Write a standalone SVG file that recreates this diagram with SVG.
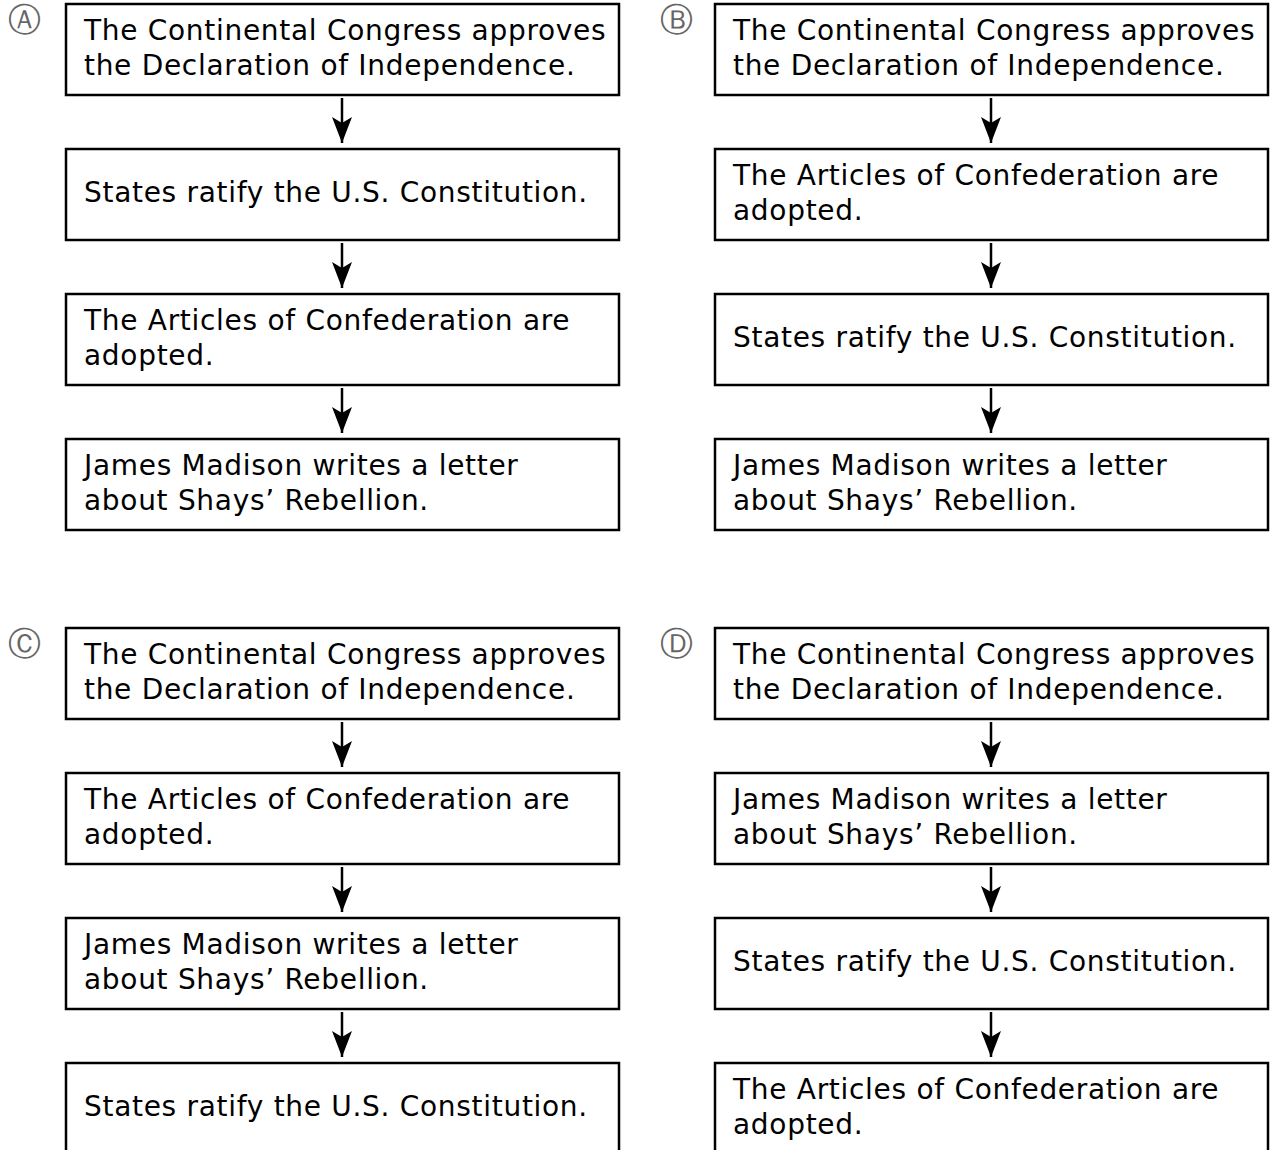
<svg xmlns="http://www.w3.org/2000/svg" width="1271" height="1150" viewBox="0 0 1271 1150">
<style>
.box{fill:#fff;stroke:#000;stroke-width:2.5}
.t{font-family:"DejaVu Sans",sans-serif;font-size:28px;letter-spacing:0.7px;fill:#000}
.lbl{font-family:"DejaVu Sans",sans-serif;font-size:33px;fill:#666}
.c{stroke:#000;stroke-width:2.5;fill:none;marker-end:url(#ah)}
</style>
<defs>
<marker id="ah" markerUnits="userSpaceOnUse" markerWidth="28" markerHeight="22" viewBox="0 0 28 22" refX="26" refY="11" orient="auto">
<path d="M0,1 L26,11 L0,21 L6,11 Z" fill="#000"/>
</marker>
</defs>
<rect width="1271" height="1150" fill="#fff"/>
<g id="labels">
<text class="lbl" x="8" y="31">Ⓐ</text>
<text class="lbl" x="660" y="31">Ⓑ</text>
<text class="lbl" x="8" y="655">Ⓒ</text>
<text class="lbl" x="660" y="655">Ⓓ</text>
</g>
<g id="connectors">
<path class="c" d="M342,98 V143"/>
<path class="c" d="M342,243 V288"/>
<path class="c" d="M342,388 V433"/>
<path class="c" d="M991,98 V143"/>
<path class="c" d="M991,243 V288"/>
<path class="c" d="M991,388 V433"/>
<path class="c" d="M342,722 V767"/>
<path class="c" d="M342,867 V912"/>
<path class="c" d="M342,1012 V1057"/>
<path class="c" d="M991,722 V767"/>
<path class="c" d="M991,867 V912"/>
<path class="c" d="M991,1012 V1057"/>
</g>
<g id="a1"><rect class="box" x="66" y="4" width="553" height="91"/><text class="t" x="84" y="40">The Continental Congress approves</text><text class="t" x="84" y="75">the Declaration of Independence.</text></g>
<g id="a2"><rect class="box" x="66" y="149" width="553" height="91"/><text class="t" x="84" y="202">States ratify the U.S. Constitution.</text></g>
<g id="a3"><rect class="box" x="66" y="294" width="553" height="91"/><text class="t" x="84" y="330">The Articles of Confederation are</text><text class="t" x="84" y="365">adopted.</text></g>
<g id="a4"><rect class="box" x="66" y="439" width="553" height="91"/><text class="t" x="84" y="475">James Madison writes a letter</text><text class="t" x="84" y="510">about Shays’ Rebellion.</text></g>
<g id="b1"><rect class="box" x="715" y="4" width="553" height="91"/><text class="t" x="733" y="40">The Continental Congress approves</text><text class="t" x="733" y="75">the Declaration of Independence.</text></g>
<g id="b2"><rect class="box" x="715" y="149" width="553" height="91"/><text class="t" x="733" y="185">The Articles of Confederation are</text><text class="t" x="733" y="220">adopted.</text></g>
<g id="b3"><rect class="box" x="715" y="294" width="553" height="91"/><text class="t" x="733" y="347">States ratify the U.S. Constitution.</text></g>
<g id="b4"><rect class="box" x="715" y="439" width="553" height="91"/><text class="t" x="733" y="475">James Madison writes a letter</text><text class="t" x="733" y="510">about Shays’ Rebellion.</text></g>
<g id="c1"><rect class="box" x="66" y="628" width="553" height="91"/><text class="t" x="84" y="664">The Continental Congress approves</text><text class="t" x="84" y="699">the Declaration of Independence.</text></g>
<g id="c2"><rect class="box" x="66" y="773" width="553" height="91"/><text class="t" x="84" y="809">The Articles of Confederation are</text><text class="t" x="84" y="844">adopted.</text></g>
<g id="c3"><rect class="box" x="66" y="918" width="553" height="91"/><text class="t" x="84" y="954">James Madison writes a letter</text><text class="t" x="84" y="989">about Shays’ Rebellion.</text></g>
<g id="c4"><rect class="box" x="66" y="1063" width="553" height="91"/><text class="t" x="84" y="1116">States ratify the U.S. Constitution.</text></g>
<g id="d1"><rect class="box" x="715" y="628" width="553" height="91"/><text class="t" x="733" y="664">The Continental Congress approves</text><text class="t" x="733" y="699">the Declaration of Independence.</text></g>
<g id="d2"><rect class="box" x="715" y="773" width="553" height="91"/><text class="t" x="733" y="809">James Madison writes a letter</text><text class="t" x="733" y="844">about Shays’ Rebellion.</text></g>
<g id="d3"><rect class="box" x="715" y="918" width="553" height="91"/><text class="t" x="733" y="971">States ratify the U.S. Constitution.</text></g>
<g id="d4"><rect class="box" x="715" y="1063" width="553" height="91"/><text class="t" x="733" y="1099">The Articles of Confederation are</text><text class="t" x="733" y="1134">adopted.</text></g>
</svg>
